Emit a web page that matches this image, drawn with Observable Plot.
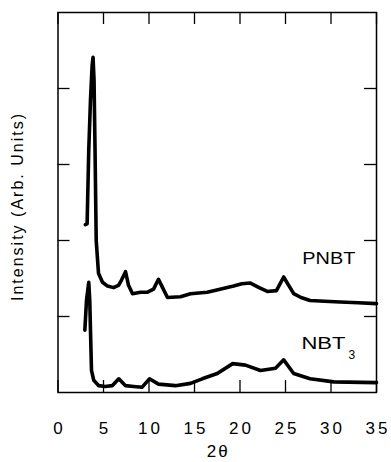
<!DOCTYPE html>
<html>
<head>
<meta charset="utf-8">
<script src="https://cdn.jsdelivr.net/npm/d3@7"></script>
<script src="https://cdn.jsdelivr.net/npm/@observablehq/plot@0.6"></script>
<style>
  html, body { margin: 0; padding: 0; background: #fff; }
  svg { display: block; }
</style>
</head>
<body>
<div id="chart"></div>
<script>
// 2θ values and intensities
const pnbtX = [3.0, 3.2, 3.38, 3.57, 3.75, 3.85, 3.96, 4.07, 4.2, 4.45, 4.89, 5.44, 6.1, 6.65, 6.98, 7.42, 7.75, 8.19, 9.07, 9.84, 10.5, 11.04, 11.37, 12.03, 13.46, 14.56, 16.4, 17.8, 19.3, 20.2, 21.15, 22.1, 23.0, 24.0, 24.8, 25.3, 25.9, 26.7, 27.7, 29.3, 31.0, 33.0, 35.0];
const pnbtY = [2.21, 2.22, 3.19, 3.85, 4.3, 4.41, 4.11, 3.19, 2.0, 1.57, 1.45, 1.40, 1.38, 1.41, 1.48, 1.59, 1.41, 1.30, 1.32, 1.32, 1.36, 1.49, 1.41, 1.25, 1.26, 1.30, 1.32, 1.36, 1.40, 1.43, 1.44, 1.38, 1.33, 1.34, 1.52, 1.42, 1.30, 1.25, 1.21, 1.20, 1.19, 1.18, 1.17];
const nbtX = [2.95, 3.13, 3.38, 3.49, 3.57, 3.68, 3.93, 4.48, 5.2, 5.96, 6.68, 7.42, 8.3, 9.25, 10.05, 11.04, 12.9, 14.56, 15.85, 17.5, 19.2, 20.6, 22.25, 23.9, 24.8, 25.9, 27.7, 30.3, 35.0];
const nbtY = [0.82, 1.21, 1.45, 1.21, 0.82, 0.29, 0.16, 0.09, 0.08, 0.09, 0.18, 0.09, 0.08, 0.07, 0.18, 0.11, 0.09, 0.12, 0.18, 0.25, 0.38, 0.36, 0.29, 0.32, 0.43, 0.25, 0.18, 0.14, 0.13];

const xTicks = [0, 5, 10, 15, 20, 25, 30, 35];
const yTicks = [1, 2, 3, 4];
const xLabel = "2θ";
const yLabel = "Intensity (Arb. Units)";
const seriesLabels = ["PNBT", "NBT"];
const seriesSubs = ["", "3"];
const labelX = [26.85, 26.75];
const labelY = [1.76, 0.64];

const pnbt = pnbtX.map((x, i) => ({x, y: pnbtY[i]}));
const nbt = nbtX.map((x, i) => ({x, y: nbtY[i]}));
const labels = seriesLabels.map((t, i) => ({text: t, sub: seriesSubs[i], x: labelX[i], y: labelY[i]}));

const W = 391, H = 462;
const mL = 57.5, mR = 15, mT = 12, mB = 70;
const fw = W - mL - mR, fh = H - mT - mB;
const tickLen = 12;

const chart = Plot.plot({
  width: W,
  height: H,
  marginLeft: mL,
  marginRight: mR,
  marginTop: mT,
  marginBottom: mB,
  style: {fontFamily: "'Liberation Sans', Arial, sans-serif", color: "#000", background: "#fff"},
  x: {domain: [0, 35]},
  y: {domain: [0, 5], axis: null},
  marks: [
    Plot.tickX(xTicks, {x: d => d, insetTop: fh - tickLen, stroke: "#000", strokeWidth: 1.3}),
    Plot.tickX(xTicks, {x: d => d, insetBottom: fh - tickLen, stroke: "#000", strokeWidth: 1.3}),
    Plot.tickY(yTicks, {y: d => d, insetRight: fw - tickLen, stroke: "#000", strokeWidth: 1.3}),
    Plot.tickY(yTicks, {y: d => d, insetLeft: fw - tickLen, stroke: "#000", strokeWidth: 1.3}),
    Plot.frame({stroke: "#000", strokeWidth: 1.5}),
    Plot.axisX(xTicks, {tickSize: 0, tickPadding: 29, fontSize: 17, label: null, textAnchor: "middle", dx: 1.5}),
    Plot.line(pnbt, {x: "x", y: "y", stroke: "#000", strokeWidth: 3.6, strokeLinejoin: "round"}),
    Plot.line(nbt, {x: "x", y: "y", stroke: "#000", strokeWidth: 3.6, strokeLinejoin: "round"}),
    Plot.text(labels, {x: "x", y: "y", text: "text", textAnchor: "start", fontSize: 16, fill: "#000"}),
    Plot.text(labels, {x: "x", y: "y", text: "sub", textAnchor: "start", dx: 47, dy: 11, fontSize: 12, fill: "#000"}),
    Plot.text([xLabel], {text: d => d, frameAnchor: "bottom", lineAnchor: "middle", dy: 59, dx: 1, fontSize: 17, fill: "#000"}),
    Plot.text([yLabel], {text: d => d, frameAnchor: "left", textAnchor: "middle", lineAnchor: "middle", rotate: -90, dx: -40, dy: 4, fontSize: 16, fill: "#000"})
  ]
});
// widen the lettering like the original typesetting (wide glyphs)
const tickStrings = xTicks.map(String);
const labelLengths = {PNBT: 53, NBT: 44};
d3.select(chart).selectAll("text").each(function() {
  const t = this.textContent;
  if (seriesLabels.includes(t)) {
    this.setAttribute("textLength", labelLengths[t]);
    this.setAttribute("lengthAdjust", "spacingAndGlyphs");
  } else if (t === yLabel) {
    this.style.letterSpacing = "2px";
  } else if (t === xLabel) {
    this.style.letterSpacing = "2px";
  } else if (tickStrings.includes(t)) {
    this.style.letterSpacing = "3px";
  }
});
document.getElementById("chart").appendChild(chart);
</script>
</body>
</html>
